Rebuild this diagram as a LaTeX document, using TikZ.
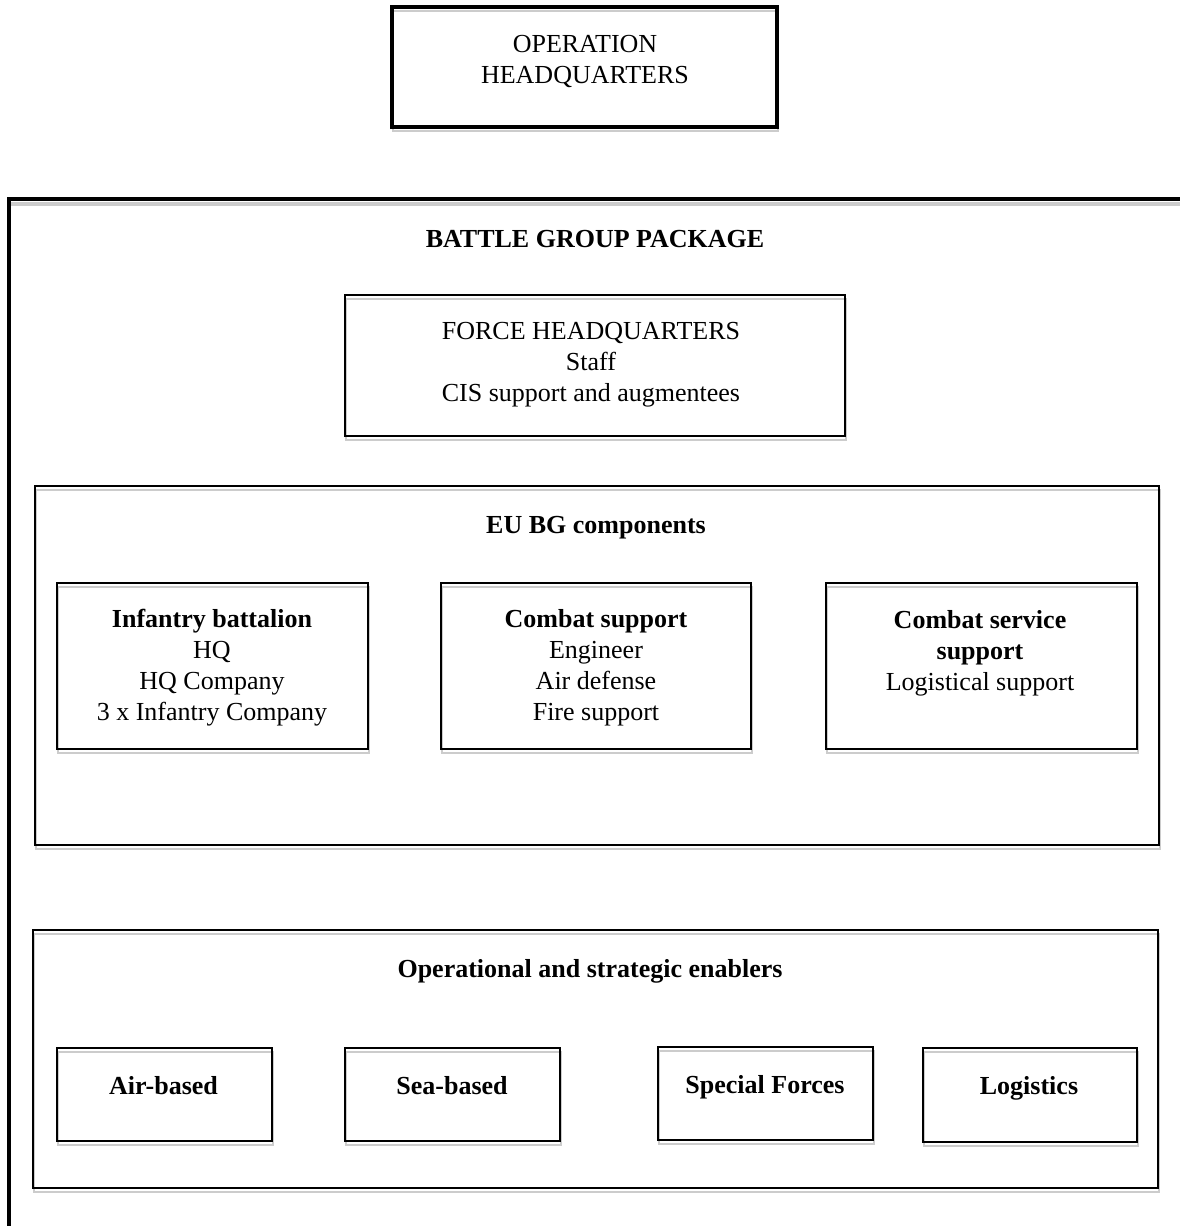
\documentclass[tikz,border=0pt]{standalone}
\usepackage{fontspec}
\setmainfont{Liberation Serif}
\usetikzlibrary{positioning}

\begin{document}
\begin{tikzpicture}[x=1pt,y=-1pt,
  box/.style={draw,line width=2.4pt,inner sep=0pt,
    preaction={draw=black!20,line width=2.6pt,transform canvas={xshift=1pt,yshift=-4pt}}},
  heavy/.style={box,line width=4pt},
  txt/.style={align=center,anchor=base,inner sep=0pt,font=\fontsize{26}{31}\selectfont},
  btxt/.style={txt,font=\fontsize{26}{31}\selectfont\bfseries}]
\useasboundingbox (0,0) rectangle (1180,1226);
% operation level
\node[heavy,minimum width=385pt,minimum height=120pt] (ophq) at (584.5,67) {};
\node[txt] (ophqT) at (585,83) {OPERATION\\HEADQUARTERS};
% battle group package, open to the right and bottom
\draw[black!20,line width=4pt] (11,203.5)--(1190,203.5);
\draw[line width=4pt] (9,1240)--(9,199)--(1190,199);
\node[btxt] (bgp) at (595,247) {BATTLE GROUP PACKAGE};
\node[box,line width=2.2pt,minimum width=500pt,minimum height=141pt] (fhq) at (595,365.5) {};
\node[txt] (fhqT) at (591,401) {FORCE HEADQUARTERS\\Staff\\CIS support and augmentees};
% components
\node[box,line width=2.2pt,minimum width=1124pt,minimum height=359pt] (eubg) at (597,665.5) {};
\node[btxt] (eubgT) at (596,533) {EU BG components};
\node[box,minimum width=311pt,minimum height=166pt] (inf) at (212.5,666) {};
\node[box,minimum width=310pt,minimum height=166pt] (cs) at (596,666) {};
\node[box,minimum width=311pt,minimum height=166pt] (css) at (981.5,666) {};
\node[txt] (infT) at (212,720) {\textbf{Infantry battalion}\\HQ\\HQ Company\\3 x Infantry Company};
\node[txt] (csT) at (596,720) {\textbf{Combat support}\\Engineer\\Air defense\\Fire support};
\node[txt] (cssT) at (980,690) {\textbf{Combat service}\\\textbf{support}\\Logistical support};
% enablers
\node[box,line width=2.2pt,minimum width=1125pt,minimum height=258pt] (openb) at (595.5,1059) {};
\node[btxt] (openbT) at (590,977) {Operational and strategic enablers};
\node[box,minimum width=215pt,minimum height=93pt] (air) at (164.5,1094.5) {};
\node[box,minimum width=215pt,minimum height=93pt] (sea) at (452.5,1094.5) {};
\node[box,minimum width=215pt,minimum height=93pt] (sf) at (765.5,1093.5) {};
\node[box,minimum width=214pt,minimum height=94pt] (logi) at (1030,1095) {};
\node[btxt] (airT) at (163.5,1094) {Air-based};
\node[btxt] (seaT) at (452,1094) {Sea-based};
\node[btxt] (sfT) at (765,1093) {Special Forces};
\node[btxt] (logiT) at (1029,1094) {Logistics};
\end{tikzpicture}
\end{document}
